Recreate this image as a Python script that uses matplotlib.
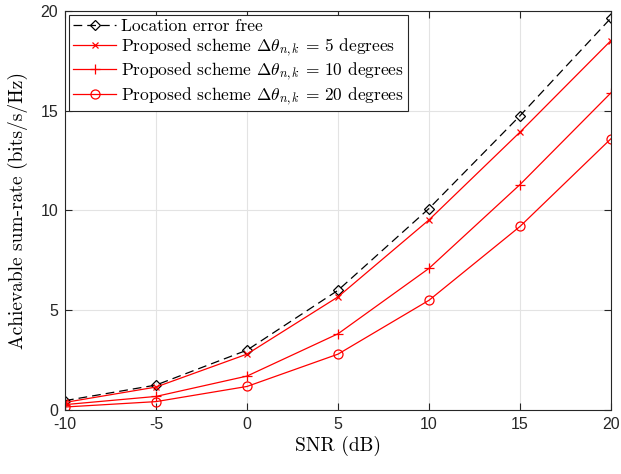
import matplotlib
matplotlib.use("Agg")
import matplotlib.pyplot as plt

plt.rcParams['mathtext.fontset'] = 'cm'
plt.rcParams['axes.unicode_minus'] = False

snr = [-10, -5, 0, 5, 10, 15, 20]
error_free = [0.47, 1.25, 3.0, 6.0, 10.1, 14.75, 19.65]
deg5 = [0.38, 1.15, 2.8, 5.67, 9.53, 13.93, 18.52]
deg10 = [0.27, 0.68, 1.7, 3.82, 7.1, 11.3, 15.9]
deg20 = [0.15, 0.42, 1.18, 2.8, 5.5, 9.2, 13.6]

labels = ['Location error free',
          r'Proposed scheme $\Delta\theta_{n,k}$ = 5 degrees',
          r'Proposed scheme $\Delta\theta_{n,k}$ = 10 degrees',
          r'Proposed scheme $\Delta\theta_{n,k}$ = 20 degrees']
xticks = [-10, -5, 0, 5, 10, 15, 20]
yticks = [0, 5, 10, 15, 20]

fig = plt.figure(figsize=(6.21, 4.74), dpi=100)
ax = fig.add_axes([65/621, 64/474, 546/621, 399/474])

ax.plot(snr, error_free, color='black', ls=(0, (7, 4)), lw=0.9, marker='D',
        ms=5.5, mfc='none', mew=0.9, label=labels[0])
ax.plot(snr, deg5, color='red', lw=0.9, marker='x', ms=5, mew=0.9, label=labels[1])
ax.plot(snr, deg10, color='red', lw=0.9, marker='+', ms=7, mew=0.9, label=labels[2])
ax.plot(snr, deg20, color='red', lw=0.9, marker='o', ms=6.5, mfc='none', mew=0.9, label=labels[3])

ax.set_xlim(-10, 20)
ax.set_ylim(0, 20)
ax.set_xticks(xticks)
ax.set_yticks(yticks)
ax.set_xticklabels([str(v) for v in xticks], fontsize=11.5, family='Liberation Sans')
ax.set_yticklabels([str(v) for v in yticks], fontsize=11.5, family='Liberation Sans')
ax.tick_params(direction='in', top=True, right=True, length=5, width=0.8, colors='#262626', pad=5)
ax.grid(True, color='#e3e3e3', lw=0.8)
ax.set_axisbelow(True)
for s in ax.spines.values():
    s.set_color('#262626')
    s.set_linewidth(0.8)

ax.set_xlabel('SNR (dB)', fontsize=14, fontname='cmr10', labelpad=3)
ax.set_ylabel('Achievable sum-rate (bits/s/Hz)', fontsize=14, fontname='cmr10', labelpad=9)

leg = ax.legend(loc='upper left', prop={'family': 'cmr10', 'size': 12.5}, frameon=True,
                fancybox=False, edgecolor='#262626', framealpha=1, borderpad=0.2,
                labelspacing=0.12, handlelength=2.5, handletextpad=0.3,
                borderaxespad=0.25)
leg.get_frame().set_linewidth(0.8)

fig.savefig('out.png', dpi=100)
